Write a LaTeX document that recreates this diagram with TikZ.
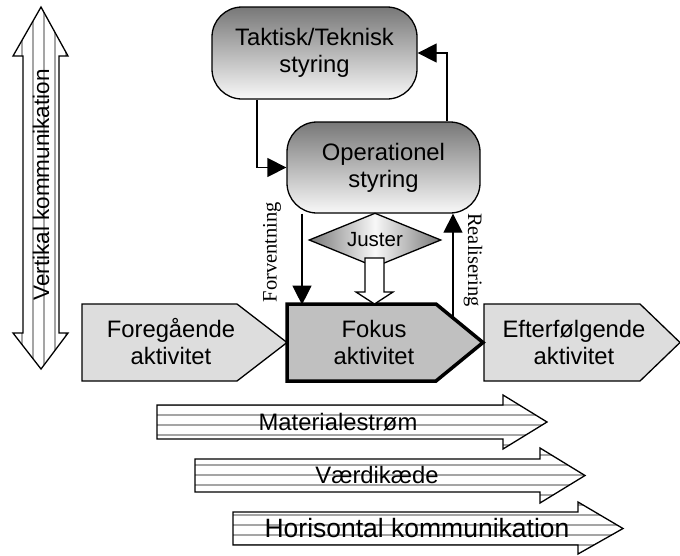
\documentclass[tikz,border=0pt]{standalone}
\usepackage{fontspec}
\setmainfont{Liberation Sans}
\newfontfamily\notefont{Liberation Serif}
\definecolor{shadetop}{RGB}{120,120,120}
\definecolor{shadebot}{RGB}{248,248,248}
\definecolor{actfill}{RGB}{221,221,221}
\definecolor{focusfill}{RGB}{192,192,192}
\definecolor{stripe}{RGB}{165,165,165}
\usetikzlibrary{
	arrows.meta,
	shapes.geometric,
	patterns.meta
}
\tikzset{
  % arrow
	cstra/.style      ={-{Triangle[length=19pt,width=19pt]}, line width=1.3pt},
	cstblock/.style   ={draw, line width=1.3pt, fill=white},
	cstwide/.style    ={draw, line width=1.3pt, pattern={Lines[angle=0,distance=10pt,line width=1.3pt]}, pattern color=stripe},
	cstwidev/.style   ={draw, line width=1.3pt, pattern={Lines[angle=90,distance=11pt,line width=1.3pt]}, pattern color=stripe},
  % shape
	cstact/.style     ={draw, line width=1.3pt, fill=actfill},
	cstfocus/.style   ={draw, line width=3.5pt, fill=focusfill, line join=miter},
  % node
	csttext/.style    ={align=center, inner sep=0pt, font=\fontsize{23.8}{27}\selectfont},
	cstnote/.style    ={inner sep=0pt, font=\notefont\fontsize{20.5}{22}\selectfont},
	cstnode/.style    ={csttext, draw, line width=1.3pt, rounded corners=30pt, top color=shadetop, bottom color=shadebot},
	cstjust/.style    ={csttext, font=\fontsize{20.5}{22}\selectfont, diamond, draw, line width=1.3pt, aspect=2.44, minimum width=132pt, minimum height=54pt, left color=shadetop, right color=shadetop, middle color=shadebot}
}
\begin{document}
\begin{tikzpicture}[x=1pt,y=-1pt]
	\useasboundingbox (0,0) rectangle (680,555);
	% styring
	\node[cstnode, minimum width=205pt, minimum height=92pt] (tak) at (314.5,53) {Taktisk/Teknisk\\styring};
	\node[cstnode, minimum width=193pt, minimum height=91pt] (op) at (383.5,167.5) {Operationel\\styring};
	\draw[cstra] ([xshift=-57.5pt]tak.south) |- (op.west);
	\draw[cstra] ([xshift=63.5pt]op.north) |- (tak.east);
	% aktiviteter
	\draw[cstact] (82,304) -- (237,304) -- (287,342.5) -- (237,381) -- (82,381) -- cycle;
	\draw[cstact] (484,304) -- (640,304) -- (680,342.5) -- (640,381) -- (484,381) -- cycle;
	\draw[cstfocus] (287,304) -- (436,304) -- (483,342.5) -- (436,381) -- (287,381) -- cycle;
	\node[csttext] (foreg) at (171,342) {Foregående\\aktivitet};
	\node[csttext] (fokus) at (374,342) {Fokus\\aktivitet};
	\node[csttext] (efter) at (574,342) {Efterfølgende\\aktivitet};
	\coordinate (real) at (453,318);
	% juster
	\node[cstjust] (just) at (375,240) {Juster};
	\draw[cstblock] (365,258) -- (384,258) -- (384,292) -- (393,292) -- (374.5,304)
		-- (356,292) -- (365,292) -- cycle;
	\draw[cstra] ([xshift=-81.5pt]op.south) -- ++(0,91)
		node[cstnote, midway, rotate=90, xshift=7pt, yshift=30pt] (forv) {Forventning};
	\draw[cstra] (real) -- (real |- op.south)
		node[cstnote, midway, rotate=-90, xshift=-6pt, yshift=20pt] (realis) {Realisering};
	% kommunikation
	\draw[cstwidev] (41,7) -- (68,56) -- (59,56) -- (59,333) -- (68,333) -- (41,369)
		-- (13,333) -- (23,333) -- (23,56) -- (13,56) -- cycle;
	\node[csttext, rotate=90, font=\fontsize{22.5}{27}\selectfont] (vert) at (41,185) {Vertikal kommunikation};
	\draw[cstwide] (157,405) -- (503,405) -- (503,395) -- (547,422) -- (503,449) -- (503,439) -- (157,439) -- cycle;
	\draw[cstwide] (195,459) -- (540,459) -- (540,448) -- (585,475.5) -- (540,503) -- (540,492) -- (195,492) -- cycle;
	\draw[cstwide] (233,512) -- (578,512) -- (578,502) -- (623,528.5) -- (578,554) -- (578,545) -- (233,545) -- cycle;
	\node[csttext] (mat) at (338,422) {Materialestrøm};
	\node[csttext] (vaerdi) at (377,475) {Værdikæde};
	\node[csttext, font=\fontsize{26.5}{30}\selectfont] (hor) at (417,528) {Horisontal kommunikation};
\end{tikzpicture}
\end{document}
